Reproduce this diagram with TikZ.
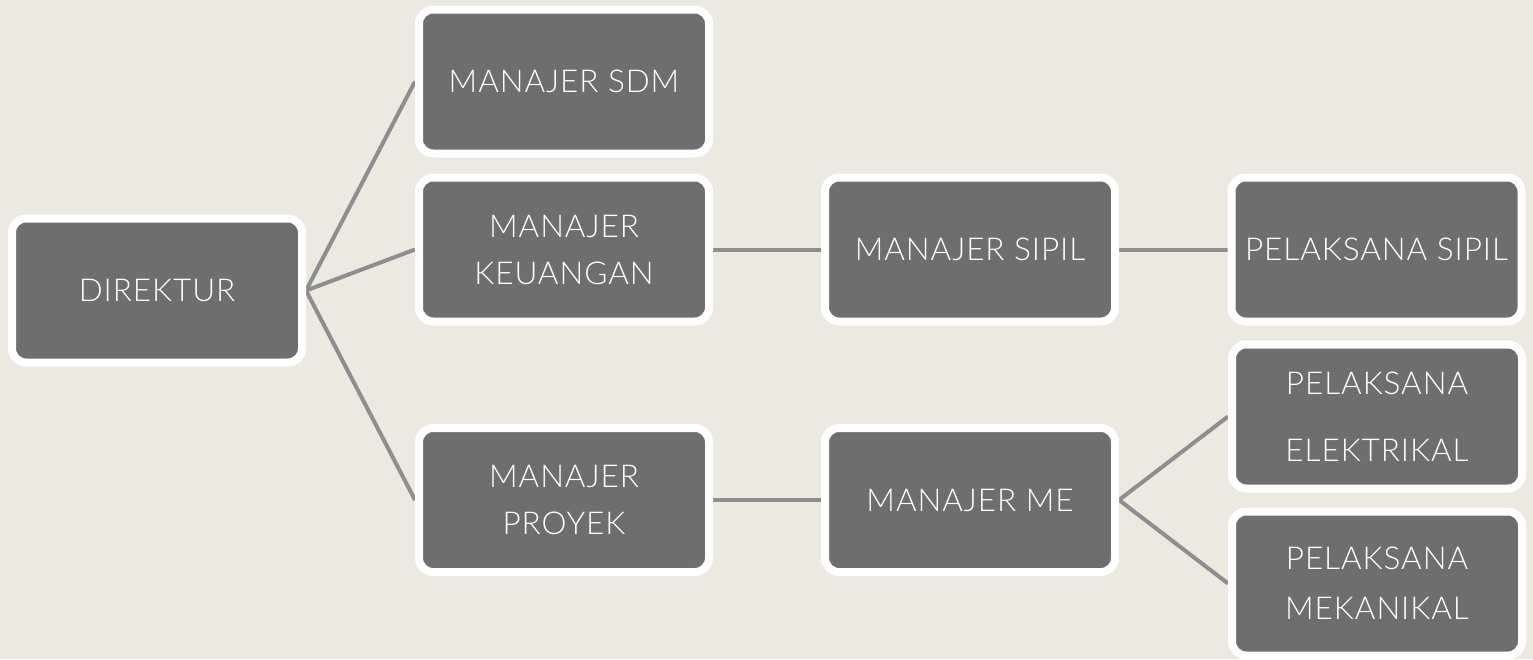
\documentclass[tikz,border=0pt]{standalone}
\usepackage{fontspec}
\setmainfont{Lato Light}[LetterSpace=3]
\usetikzlibrary{backgrounds,shadows}
\definecolor{bgcol}{HTML}{ECE9E1}
\definecolor{boxcol}{HTML}{6E6E6E}
\definecolor{linecol}{HTML}{8E8E8E}
\tikzset{
  orgbox/.style={draw=white, line width=8pt, fill=boxcol, rounded corners=14pt,
    minimum width=290pt, minimum height=144pt, inner sep=0pt,
    text=white, align=center, font=\fontsize{31.5}{47}\selectfont,
    drop shadow={shadow xshift=0pt, shadow yshift=-3pt, opacity=0.18, fill=black}},
  link/.style={draw=linecol, line width=4pt}
}
\begin{document}
\begin{tikzpicture}[x=1pt,y=-1pt]
\useasboundingbox (0,0) rectangle (1533,659);
\node[orgbox] (dir) at (157,290.5) {DIREKTUR};
\node[orgbox] (sdm) at (564,81.5) {MANAJER SDM};
\node[orgbox] (keu) at (564,249.5) {MANAJER\\KEUANGAN};
\node[orgbox] (pro) at (564,500) {MANAJER\\PROYEK};
\node[orgbox] (sip) at (970,249.5) {MANAJER SIPIL};
\node[orgbox] (me) at (970,500) {MANAJER ME};
\node[orgbox] (psip) at (1376.5,249.5) {PELAKSANA SIPIL};
\node[orgbox, font=\fontsize{31.5}{67}\selectfont] (pel) at (1377,416.5) {PELAKSANA\\ELEKTRIKAL};
\node[orgbox, font=\fontsize{31.5}{50}\selectfont] (pmek) at (1377,583.5) {PELAKSANA\\MEKANIKAL};
\begin{pgfonlayer}{background}
\fill[bgcol] (0,0) rectangle (1533,659);
\draw[link] (dir.east) -- (sdm.west);
\draw[link] (dir.east) -- (keu.west);
\draw[link] (dir.east) -- (pro.west);
\draw[link] (keu.east) -- (sip.west);
\draw[link] (sip.east) -- (psip.west);
\draw[link] (pro.east) -- (me.west);
\draw[link] (me.east) -- (pel.west);
\draw[link] (me.east) -- (pmek.west);
\end{pgfonlayer}
\end{tikzpicture}
\end{document}
